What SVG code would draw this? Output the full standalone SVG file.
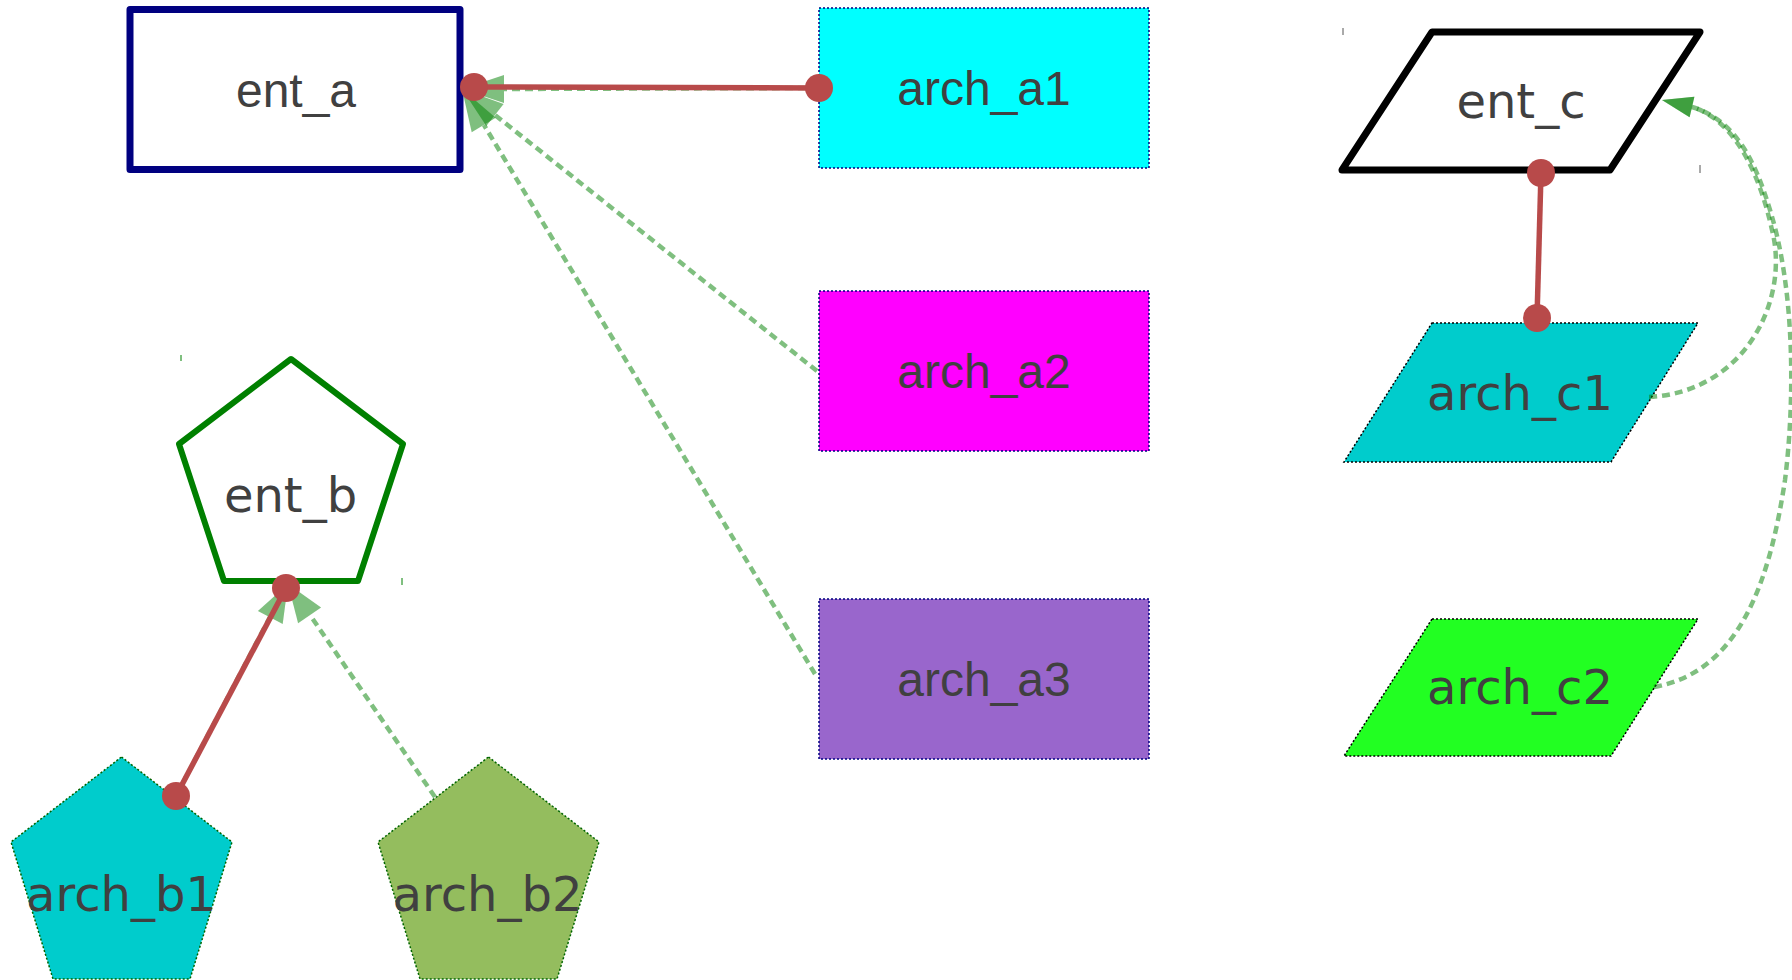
<svg xmlns="http://www.w3.org/2000/svg" width="1792" height="980" viewBox="0 0 1792 980">
<style>
.lbl{font-family:"Liberation Sans",Arial,sans-serif;font-size:48px;fill:#404040;text-anchor:middle}
.dlbl{font-family:"DejaVu Sans",sans-serif;font-size:48px;fill:#404040;text-anchor:middle}
.archrect{stroke:#000080;stroke-width:1.5;stroke-dasharray:2,2}
.archpent{stroke:#006400;stroke-width:1.5;stroke-dasharray:2,2}
.archpara{stroke:#000;stroke-width:1.5;stroke-dasharray:2,2}
.dash{fill:none;stroke:#008000;stroke-opacity:0.5;stroke-width:4.5;stroke-dasharray:8,5}
.head{fill:#008000;fill-opacity:0.5;stroke:none}
.rel{stroke:#B84A4A;stroke-width:5.5;fill:none}
.dot{fill:#B84A4A}
.tick{stroke-width:1}
</style>
<rect width="1792" height="980" fill="#fff"/>
<g id="ent_a">
<rect x="130" y="9.5" width="330" height="160" fill="#fff" stroke="#000080" stroke-width="7" stroke-linejoin="round"/>
<text class="lbl" x="296" y="107">ent_a</text>
</g>
<g id="arch_a1">
<rect class="archrect" x="819" y="8" width="330" height="160" fill="#00FFFF"/>
<text class="lbl" x="984" y="105">arch_a1</text>
</g>
<g id="arch_a2">
<rect class="archrect" x="819" y="291" width="330" height="160" fill="#FF00FF"/>
<text class="lbl" x="984" y="388">arch_a2</text>
</g>
<g id="arch_a3">
<rect class="archrect" x="819" y="599" width="330" height="160" fill="#9966CC"/>
<text class="lbl" x="984" y="696">arch_a3</text>
</g>
<g id="ent_b">
<polygon points="291,359 403,444 358,581 224,581 179,444" fill="#fff" stroke="#008000" stroke-width="6" stroke-linejoin="round"/>
<line class="tick" x1="181" y1="355" x2="181" y2="361" stroke="#008000"/>
<line class="tick" x1="402" y1="578" x2="402" y2="585" stroke="#008000"/>
<text class="dlbl" x="290.5" y="512">ent_b</text>
</g>
<g id="arch_b1">
<polygon class="archpent" points="121.5,757 232,842 190,979 53,979 11,842" fill="#00CCCC"/>
<text class="dlbl" x="121" y="911">arch_b1</text>
</g>
<g id="arch_b2">
<polygon class="archpent" points="488.5,757 599,842 557,979 420,979 378,842" fill="#94BD5E"/>
<text class="dlbl" x="487.5" y="911">arch_b2</text>
</g>
<g id="ent_c">
<polygon points="1432,32 1700,32 1610,170 1342,170" fill="#fff" stroke="#000" stroke-width="7" stroke-linejoin="round"/>
<line class="tick" x1="1343" y1="28" x2="1343" y2="35" stroke="#555"/>
<line class="tick" x1="1700" y1="165" x2="1700" y2="173" stroke="#555"/>
<text class="dlbl" x="1521" y="118">ent_c</text>
</g>
<g id="arch_c1">
<polygon class="archpara" points="1432,323 1698,323 1611,462 1344,462" fill="#00CCCC"/>
<text class="dlbl" x="1520" y="409.5">arch_c1</text>
</g>
<g id="arch_c2">
<polygon class="archpara" points="1432,619 1698,619 1611,756 1344,756" fill="#22FF22"/>
<text class="dlbl" x="1520" y="704">arch_c2</text>
</g>
<g id="connectors">
<line class="dash" x1="819" y1="88" x2="504" y2="89"/>
<polygon class="head" points="462,89 504,75 504,103"/>
<line class="dash" x1="817" y1="371" x2="495" y2="115"/>
<polygon class="head" points="462,89 486.3,126 503.6,104.1"/>
<line class="dash" x1="815" y1="674" x2="484" y2="125"/>
<polygon class="head" points="462,89 471.7,132.2 495.7,117.7"/>
<line class="dash" x1="176" y1="796" x2="270" y2="617"/>
<polygon class="head" points="288,584 257.9,611.1 282.7,624.1"/>
<line class="dash" x1="435" y1="797" x2="310" y2="615"/>
<polygon class="head" points="288,584 298.1,623.2 321.1,607.4"/>
<path class="dash" d="M1649,397 C1745,392 1790,300 1772,230 C1760,175 1735,120 1692,107"/>
<polygon class="head" points="1662,100 1689.6,117.2 1694.4,96.8"/>
<path class="dash" d="M1654,687 C1740,672 1770,580 1785,480 C1795,400 1795,290 1770,210 C1755,160 1735,120 1692,107"/>
<polygon class="head" points="1662,100 1689.6,117.2 1694.4,96.8"/>
<line class="rel" x1="474" y1="87" x2="819" y2="88"/>
<circle class="dot" cx="474" cy="87" r="14"/>
<circle class="dot" cx="819" cy="88" r="14"/>
<line class="rel" x1="286" y1="588" x2="176" y2="796"/>
<circle class="dot" cx="286" cy="588" r="14"/>
<circle class="dot" cx="176" cy="796" r="14"/>
<line class="rel" x1="1541" y1="173" x2="1537" y2="318"/>
<circle class="dot" cx="1541" cy="173" r="14"/>
<circle class="dot" cx="1537" cy="318" r="14"/>
</g>
</svg>
